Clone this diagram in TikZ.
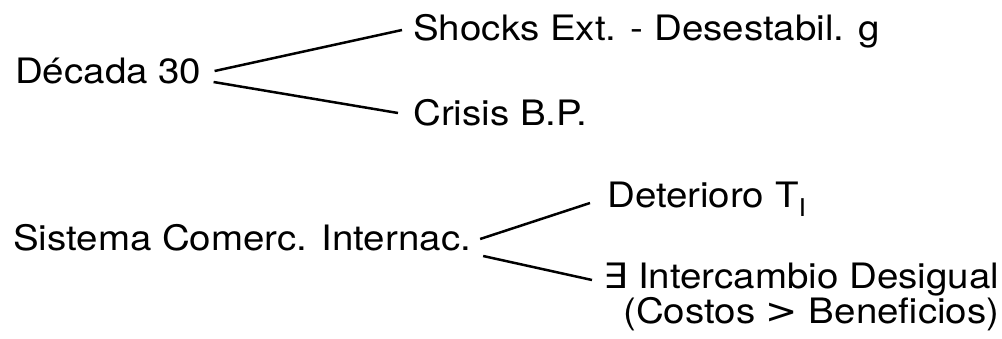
\documentclass[tikz,border=0pt]{standalone}
\usepackage{fontspec}
\setmainfont[FakeStretch=1.1]{TeX Gyre Heros}
\newfontfamily\symbfont[FakeStretch=1.1]{DejaVu Sans}
\begin{document}
\begin{tikzpicture}[x=1pt,y=-1pt]
        \tikzstyle{item}=[anchor=base west,inner sep=0pt,font=\fontsize{35}{35}\selectfont]
        \tikzstyle{edge}=[draw, line width=2.5pt]
        \useasboundingbox (0,0) rectangle (1002,338);
       \begin{scope}
         \node [item] (dec) at (15,83) {D\'ecada 30};
         \node [item] (shk) at (413,40) {Shocks Ext. - Desestabil. g};
         \node [item] (cri) at (413,125) {Crisis B.P.};

         \path[edge] ([shift={(13,-12)}]dec.base east) edge ([shift={(-11,-10)}]shk.base west);
         \path[edge] ([shift={(12,-1)}]dec.base east) edge ([shift={(-15,-12)}]cri.base west);
        \end{scope}
       \begin{scope}
         \node [item] (sis) at (13,250) {Sistema Comerc. Internac.};
         \node [item] (det) at (607,207) {Deterioro T\textsubscript{I}};
         \node [item] (int) at (603,288) {{\symbfont\char"2203} Intercambio Desigual};
         \node [item] (cos) at (623,323) {(Costos\ {\symbfont >}\ Beneficios)};

         \path[edge] ([shift={(9,-11)}]sis.base east) edge ([shift={(-17,-4)}]det.base west);
         \path[edge] ([shift={(12,6)}]sis.base east) edge ([shift={(-11,-8)}]int.base west);
        \end{scope}
      \end{tikzpicture}
\end{document}
